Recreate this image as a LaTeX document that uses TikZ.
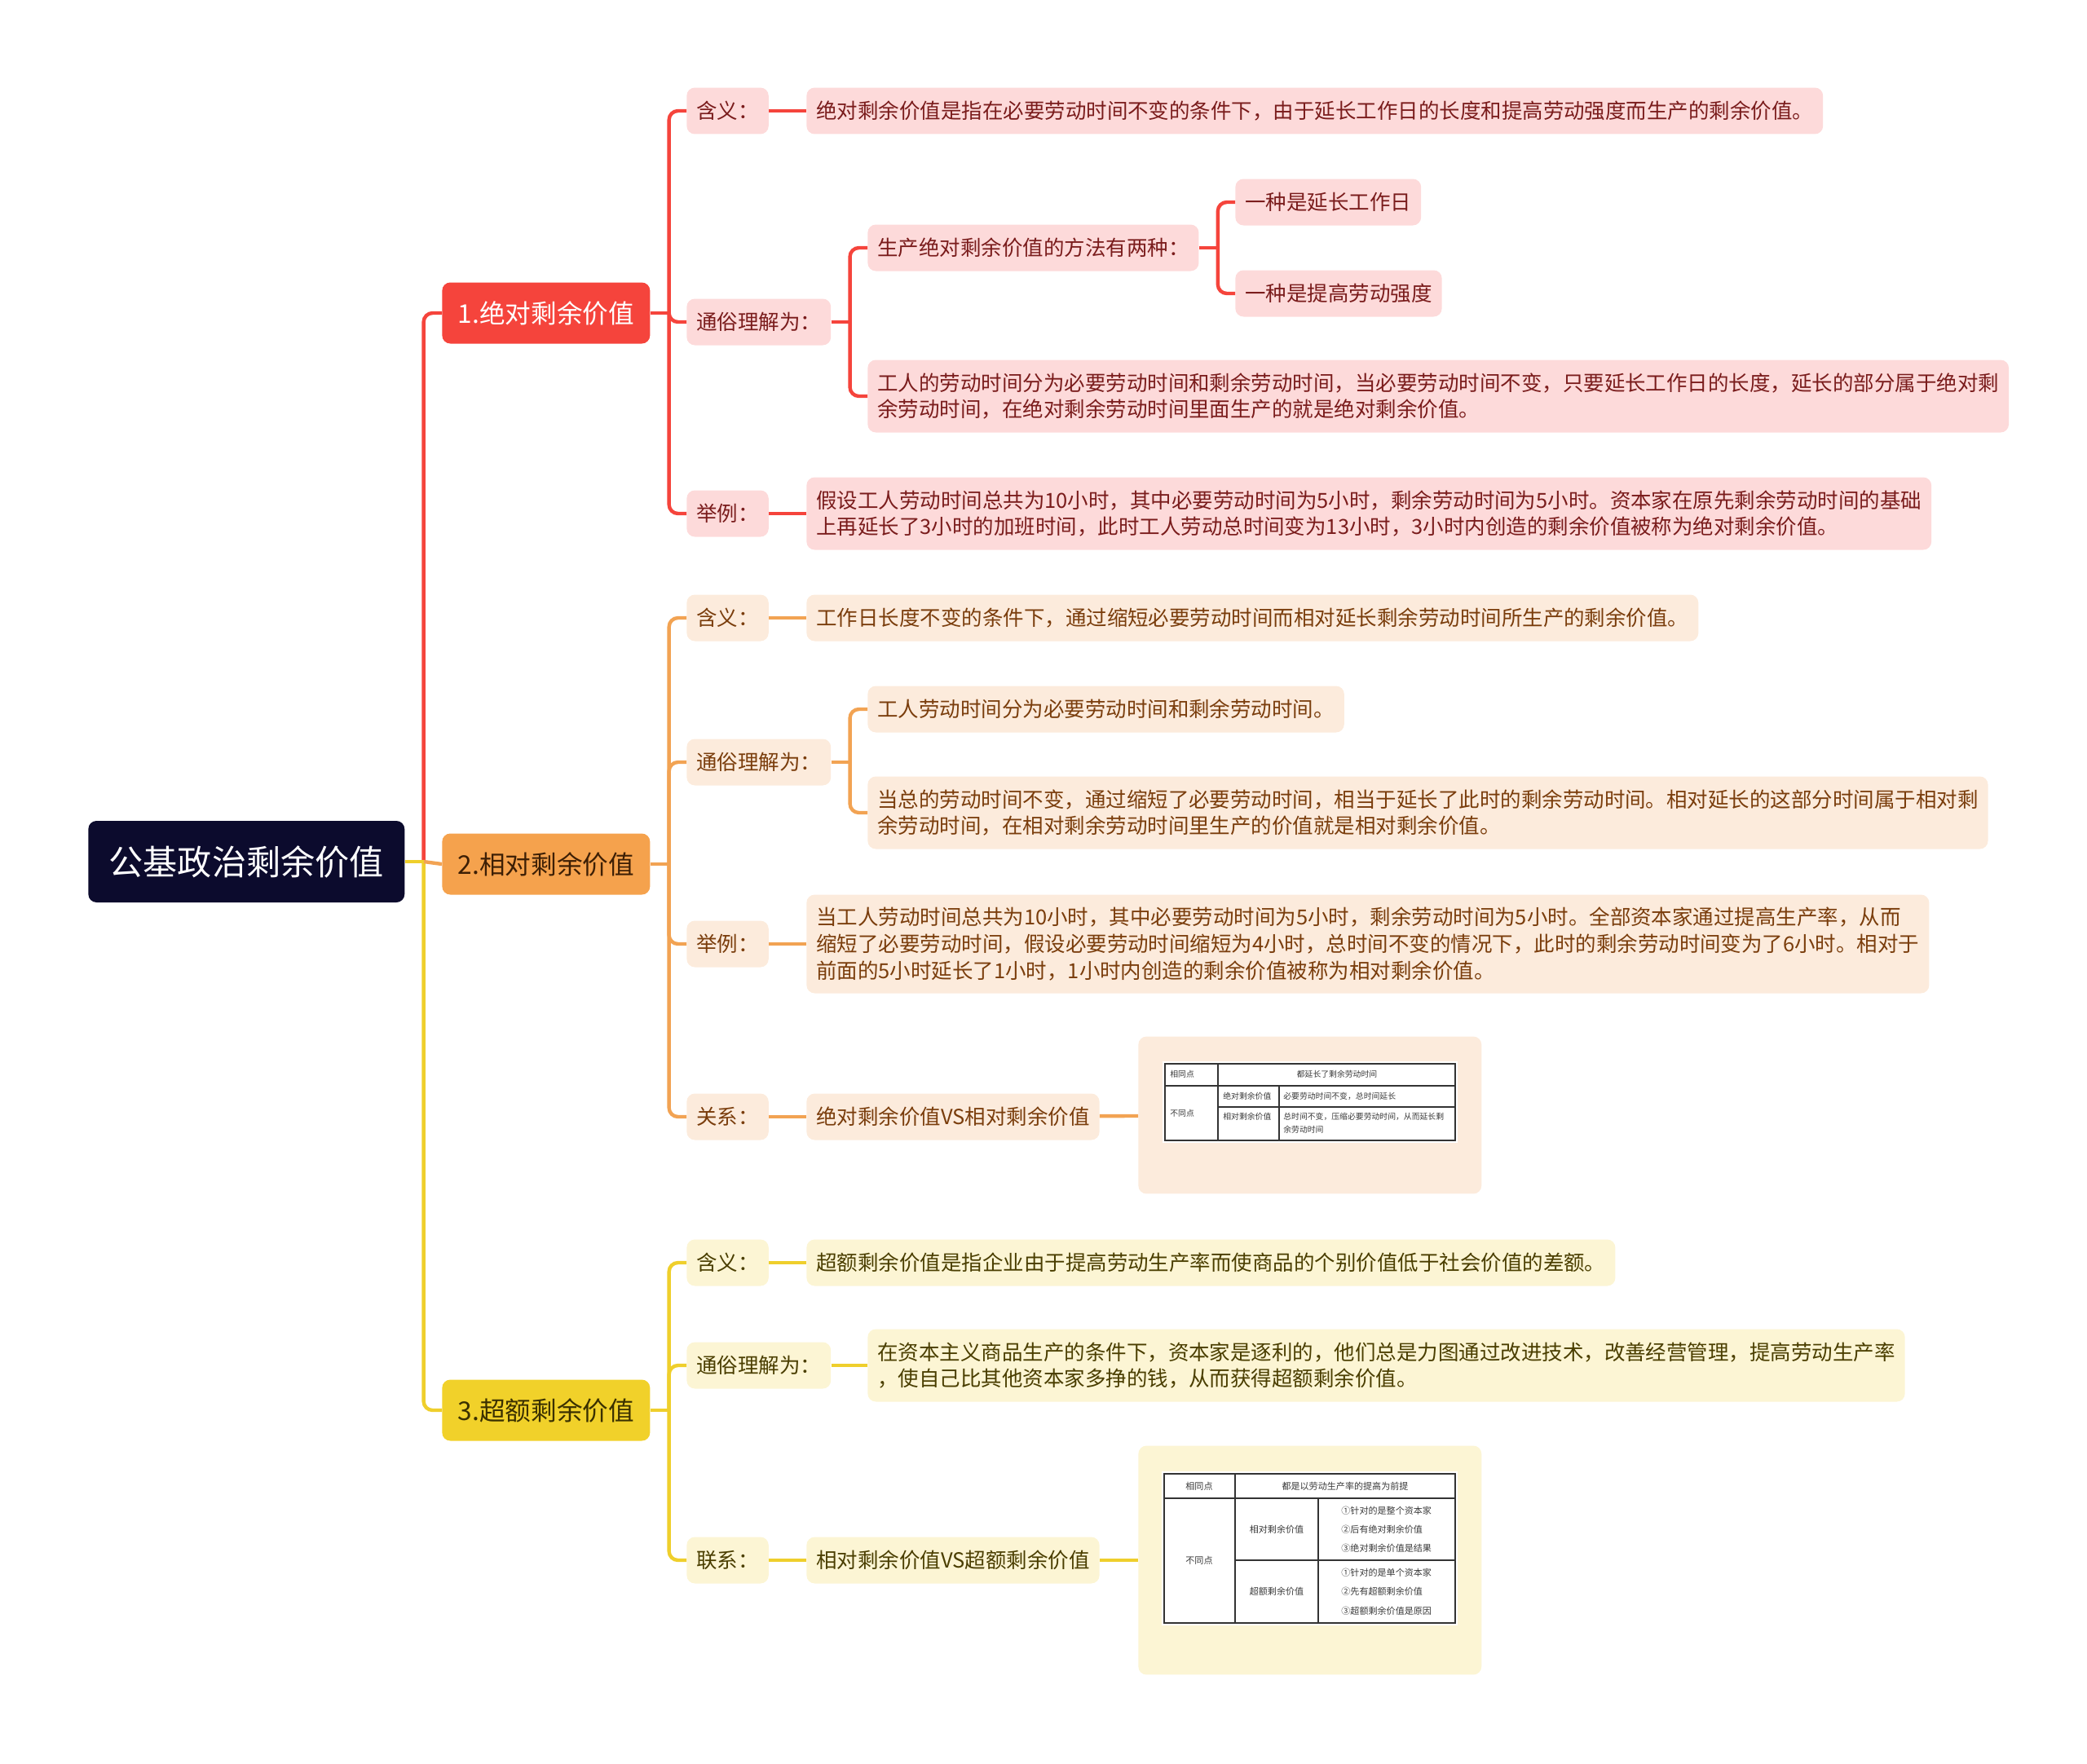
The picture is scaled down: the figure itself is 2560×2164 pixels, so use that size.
\documentclass[tikz,border=0pt]{standalone}
\usepackage{fontspec}
\setmainfont{Noto Sans CJK SC}

\definecolor{rootbg}{HTML}{0C0B2D}
\definecolor{redA}{HTML}{F5443C}
\definecolor{redB}{HTML}{FDDADA}
\definecolor{redT}{HTML}{7A1C1C}
\definecolor{orgA}{HTML}{F5A24D}
\definecolor{orgB}{HTML}{FCEBDC}
\definecolor{orgT}{HTML}{7A3D0C}
\definecolor{orgD}{HTML}{3D1F05}
\definecolor{orgL}{HTML}{F2A353}
\definecolor{yelA}{HTML}{F1D12A}
\definecolor{yelB}{HTML}{FCF5D4}
\definecolor{yelT}{HTML}{4A3E00}
\definecolor{yelD}{HTML}{3A3000}
\definecolor{yelL}{HTML}{EFCF2C}
\definecolor{tabline}{HTML}{333333}
\definecolor{tabtext}{HTML}{3A3A3A}

\tikzset{
  rootbox/.style={anchor=west, fill=rootbg, text=white, rounded corners=0.2cm,
    minimum width=7.76cm, minimum height=2cm, font=\fontsize{24}{28}\selectfont},
  topic/.style={anchor=west, rounded corners=0.2cm, minimum width=5.1cm,
    minimum height=1.5cm, font=\fontsize{18}{22}\selectfont},
  box/.style={anchor=west, rounded corners=0.2cm, inner xsep=0.24cm, inner ysep=0.2cm,
    minimum height=1.14cm, align=left, font=\fontsize{14.5}{18.6}\selectfont},
  redbox/.style={box, fill=redB, text=redT},
  orgbox/.style={box, fill=orgB, text=orgT},
  yelbox/.style={box, fill=yelB, text=yelT},
  lines2/.style={minimum height=1.78cm},
  lines3/.style={minimum height=2.42cm},
  picbox/.style={anchor=west, rounded corners=0.2cm, minimum width=8.42cm},
  link/.style={line width=2.5pt, rounded corners=0.22cm},
  tabrule/.style={draw=tabline, line width=0.6pt},
  tabcell/.style={inner sep=0pt, text=tabtext},
}

\begin{document}
\begin{tikzpicture}[x=0.02cm, y=-0.02cm]
\useasboundingbox (0,0) rectangle (2560,2164);

\node[rootbox] (root) at (108,1057) {公基政治剩余价值};
\node[topic, fill=redA, text=white] (abs) at (542,384) {1.绝对剩余价值};
\node[topic, fill=orgA, text=orgD] (rel) at (542,1060) {2.相对剩余价值};
\node[topic, fill=yelA, text=yelD] (ext) at (542,1730) {3.超额剩余价值};

% 1.绝对剩余价值
\node[redbox] (abs-def) at (842,136) {含义：};
\node[redbox] (abs-pop) at (842,395) {通俗理解为：};
\node[redbox] (abs-eg) at (842,630) {举例：};
\node[redbox] (abs-def-t) at (989,136) {绝对剩余价值是指在必要劳动时间不变的条件下，由于延长工作日的长度和提高劳动强度而生产的剩余价值。};
\node[redbox] (abs-ways) at (1064,304) {生产绝对剩余价值的方法有两种：};
\node[redbox] (abs-way1) at (1515,248) {一种是延长工作日};
\node[redbox] (abs-way2) at (1515,360) {一种是提高劳动强度};
\node[redbox, lines2] (abs-pop-t) at (1064,486) {工人的劳动时间分为必要劳动时间和剩余劳动时间，当必要劳动时间不变，只要延长工作日的长度，延长的部分属于绝对剩\\余劳动时间，在绝对剩余劳动时间里面生产的就是绝对剩余价值。};
\node[redbox, lines2] (abs-eg-t) at (989,630) {假设工人劳动时间总共为10小时，其中必要劳动时间为5小时，剩余劳动时间为5小时。资本家在原先剩余劳动时间的基础\\上再延长了3小时的加班时间，此时工人劳动总时间变为13小时，3小时内创造的剩余价值被称为绝对剩余价值。};

% 2.相对剩余价值
\node[orgbox] (rel-def) at (842,758) {含义：};
\node[orgbox] (rel-pop) at (842,935) {通俗理解为：};
\node[orgbox] (rel-eg) at (842,1158) {举例：};
\node[orgbox] (rel-vs) at (842,1370) {关系：};
\node[orgbox] (rel-def-t) at (989,758) {工作日长度不变的条件下，通过缩短必要劳动时间而相对延长剩余劳动时间所生产的剩余价值。};
\node[orgbox] (rel-pop-a) at (1064,870) {工人劳动时间分为必要劳动时间和剩余劳动时间。};
\node[orgbox, lines2] (rel-pop-b) at (1064,997) {当总的劳动时间不变，通过缩短了必要劳动时间，相当于延长了此时的剩余劳动时间。相对延长的这部分时间属于相对剩\\余劳动时间，在相对剩余劳动时间里生产的价值就是相对剩余价值。};
\node[orgbox, lines3] (rel-eg-t) at (989,1158) {当工人劳动时间总共为10小时，其中必要劳动时间为5小时，剩余劳动时间为5小时。全部资本家通过提高生产率，从而\\缩短了必要劳动时间，假设必要劳动时间缩短为4小时，总时间不变的情况下，此时的剩余劳动时间变为了6小时。相对于\\前面的5小时延长了1小时，1小时内创造的剩余价值被称为相对剩余价值。};
\node[orgbox] (rel-vs-t) at (989,1370) {绝对剩余价值VS相对剩余价值};
\node[picbox, fill=orgB, minimum height=3.86cm] (rel-tab) at (1396,1368) {};

% 表格：绝对 vs 相对
\fill[white] (1426,1302) rectangle (1788,1402);
\draw[tabrule] (1429,1305) rectangle (1785,1399);
\draw[tabrule] (1494,1305) -- (1494,1399) (1429,1332) -- (1785,1332);
\draw[tabrule] (1569,1332) -- (1569,1399) (1494,1358) -- (1785,1358);
\begin{scope}[font=\fontsize{5.6}{9.1}\selectfont]
\node[tabcell, anchor=west] (ta1) at (1435,1318) {相同点};
\node[tabcell] (ta2) at (1640,1318) {都延长了剩余劳动时间};
\node[tabcell, anchor=west] (ta3) at (1435,1366) {不同点};
\node[tabcell, anchor=west] (ta4) at (1500,1345) {绝对剩余价值};
\node[tabcell, anchor=west] (ta5) at (1574,1345) {必要劳动时间不变，总时间延长};
\node[tabcell, anchor=west] (ta6) at (1500,1370) {相对剩余价值};
\node[tabcell, anchor=west, align=left] (ta7) at (1574,1378) {总时间不变，压缩必要劳动时间，从而延长剩\\余劳动时间};
\end{scope}

% 3.超额剩余价值
\node[yelbox] (ext-def) at (842,1549) {含义：};
\node[yelbox] (ext-pop) at (842,1675) {通俗理解为：};
\node[yelbox] (ext-link) at (842,1914) {联系：};
\node[yelbox] (ext-def-t) at (989,1549) {超额剩余价值是指企业由于提高劳动生产率而使商品的个别价值低于社会价值的差额。};
\node[yelbox, lines2] (ext-pop-t) at (1064,1675) {在资本主义商品生产的条件下，资本家是逐利的，他们总是力图通过改进技术，改善经营管理，提高劳动生产率\\，使自己比其他资本家多挣的钱，从而获得超额剩余价值。};
\node[yelbox] (ext-link-t) at (989,1914) {相对剩余价值VS超额剩余价值};
\node[picbox, fill=yelB, minimum height=5.62cm] (ext-tab) at (1396,1914) {};

% 表格：相对 vs 超额
\fill[white] (1425,1805) rectangle (1788,1994);
\draw[tabrule] (1428,1808) rectangle (1785,1991);
\draw[tabrule] (1515,1808) -- (1515,1991) (1428,1838) -- (1785,1838);
\draw[tabrule] (1617,1838) -- (1617,1991) (1515,1914) -- (1785,1914);
\begin{scope}[font=\fontsize{6.3}{8}\selectfont]
\node[tabcell] (tb1) at (1471,1823) {相同点};
\node[tabcell] (tb2) at (1650,1823) {都是以劳动生产率的提高为前提};
\node[tabcell] (tb3) at (1471,1914) {不同点};
\node[tabcell] (tb4) at (1566,1876) {相对剩余价值};
\node[tabcell] (tb5) at (1566,1952) {超额剩余价值};
\node[tabcell, anchor=west] (tb6) at (1645,1853) {①针对的是整个资本家};
\node[tabcell, anchor=west] (tb7) at (1645,1876) {②后有绝对剩余价值};
\node[tabcell, anchor=west] (tb8) at (1645,1899) {③绝对剩余价值是结果};
\node[tabcell, anchor=west] (tb9) at (1645,1929) {①针对的是单个资本家};
\node[tabcell, anchor=west] (tb10) at (1645,1952) {②先有超额剩余价值};
\node[tabcell, anchor=west] (tb11) at (1645,1976) {③超额剩余价值是原因};
\end{scope}

% 连线
\coordinate (root-s) at ([xshift=0.46cm]root.east);
\coordinate (abs-s) at ([xshift=0.46cm]abs.east);
\coordinate (rel-s) at ([xshift=0.46cm]rel.east);
\coordinate (ext-s) at ([xshift=0.46cm]ext.east);
\coordinate (abs-pop-s) at ([xshift=0.46cm]abs-pop.east);
\coordinate (abs-ways-s) at ([xshift=0.46cm]abs-ways.east);
\coordinate (rel-pop-s) at ([xshift=0.46cm]rel-pop.east);

\draw[link, redA] (root-s) |- (abs.west);
\draw[link, yelL] (root-s) |- (ext.west);
\draw[link, orgL] (root-s) -- (rel.west);
\draw[link, yelL] (root.east) -- (root-s);

\draw[link, redA] (abs.east) -- (abs-s);
\draw[link, redA] (abs-s) |- (abs-def.west);
\draw[link, redA] (abs-s) |- (abs-pop.west);
\draw[link, redA] (abs-s) |- (abs-eg.west);
\draw[link, redA] (abs-def) -- (abs-def-t);
\draw[link, redA] (abs-eg) -- (abs-eg-t);
\draw[link, redA] (abs-pop.east) -- (abs-pop-s);
\draw[link, redA] (abs-pop-s) |- (abs-ways.west);
\draw[link, redA] (abs-pop-s) |- (abs-pop-t.west);
\draw[link, redA] (abs-ways.east) -- (abs-ways-s);
\draw[link, redA] (abs-ways-s) |- (abs-way1.west);
\draw[link, redA] (abs-ways-s) |- (abs-way2.west);

\draw[link, orgL] (rel.east) -- (rel-s);
\draw[link, orgL] (rel-s) |- (rel-def.west);
\draw[link, orgL] (rel-s) |- (rel-pop.west);
\draw[link, orgL] (rel-s) |- (rel-eg.west);
\draw[link, orgL] (rel-s) |- (rel-vs.west);
\draw[link, orgL] (rel-def) -- (rel-def-t);
\draw[link, orgL] (rel-eg) -- (rel-eg-t);
\draw[link, orgL] (rel-vs) -- (rel-vs-t);
\draw[link, orgL] (rel-vs-t) -- (rel-tab);
\draw[link, orgL] (rel-pop.east) -- (rel-pop-s);
\draw[link, orgL] (rel-pop-s) |- (rel-pop-a.west);
\draw[link, orgL] (rel-pop-s) |- (rel-pop-b.west);

\draw[link, yelL] (ext.east) -- (ext-s);
\draw[link, yelL] (ext-s) |- (ext-def.west);
\draw[link, yelL] (ext-s) |- (ext-pop.west);
\draw[link, yelL] (ext-s) |- (ext-link.west);
\draw[link, yelL] (ext-def) -- (ext-def-t);
\draw[link, yelL] (ext-pop) -- (ext-pop-t);
\draw[link, yelL] (ext-link) -- (ext-link-t);
\draw[link, yelL] (ext-link-t) -- (ext-tab);
\end{tikzpicture}
\end{document}
